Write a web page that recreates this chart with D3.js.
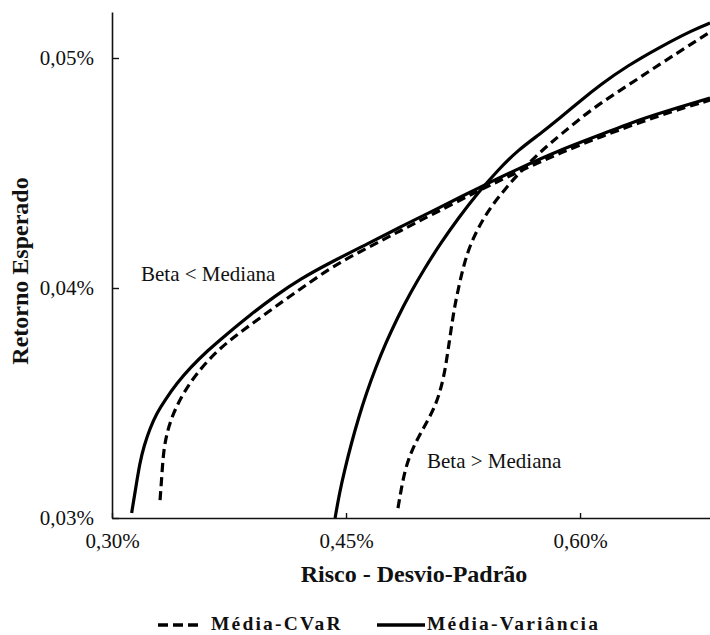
<!DOCTYPE html>
<html>
<head>
<meta charset="utf-8">
<script src="https://cdn.jsdelivr.net/npm/d3@7"></script>
<style>
  html, body { margin: 0; padding: 0; background: #fff; }
  svg { display: block; }
</style>
</head>
<body>
<svg id="chart" width="710" height="635"></svg>
<script>
// Fronteiras eficientes: risco (desvio-padrão, %) x retorno esperado (%)
const xTicks = [0.30, 0.45, 0.60];
const yTicks = [0.03, 0.04, 0.05];

// Beta < Mediana — Média-Variância
const riscoMVAbaixo = [0.3126, 0.3147, 0.3179, 0.3205, 0.3244, 0.3288, 0.3340, 0.3417, 0.3500, 0.3609, 0.3737, 0.3885, 0.4045, 0.4205, 0.4417, 0.4635, 0.4846, 0.5058, 0.5359, 0.5615, 0.5872, 0.6128, 0.6340, 0.6513, 0.6833];
const retornoMVAbaixo = [0.03022, 0.03109, 0.03243, 0.03313, 0.03391, 0.03457, 0.03513, 0.03587, 0.03652, 0.03726, 0.03800, 0.03883, 0.03965, 0.04039, 0.04117, 0.04191, 0.04265, 0.04335, 0.04439, 0.04522, 0.04600, 0.04665, 0.04722, 0.04761, 0.04826];

// Beta < Mediana — Média-CVaR
const riscoCVaRAbaixo = [0.3308, 0.3319, 0.3329, 0.3351, 0.3393, 0.3457, 0.3543, 0.3671, 0.3799, 0.3949, 0.4096, 0.4237, 0.4417, 0.4635, 0.4846, 0.5058, 0.5359, 0.5615, 0.5872, 0.6128, 0.6513, 0.6833];
const retornoCVaRAbaixo = [0.03078, 0.03178, 0.03283, 0.03370, 0.03457, 0.03543, 0.03630, 0.03726, 0.03796, 0.03870, 0.03943, 0.04009, 0.04096, 0.04174, 0.04248, 0.04322, 0.04426, 0.04509, 0.04587, 0.04657, 0.04752, 0.04817];

// Beta > Mediana — Média-Variância
const riscoMVAcima = [0.4430, 0.4458, 0.4494, 0.4535, 0.4580, 0.4631, 0.4689, 0.4755, 0.4829, 0.4912, 0.5005, 0.5108, 0.5220, 0.5345, 0.5474, 0.5603, 0.5744, 0.5872, 0.6000, 0.6128, 0.6301, 0.6513, 0.6724, 0.6833];
const retornoMVAcima = [0.03000, 0.03109, 0.03217, 0.03326, 0.03435, 0.03543, 0.03652, 0.03761, 0.03870, 0.03978, 0.04087, 0.04196, 0.04304, 0.04413, 0.04513, 0.04600, 0.04670, 0.04739, 0.04813, 0.04883, 0.04965, 0.05048, 0.05122, 0.05152];

// Beta > Mediana — Média-CVaR
const riscoCVaRAcima = [0.4833, 0.4853, 0.4878, 0.4917, 0.4968, 0.5026, 0.5077, 0.5109, 0.5135, 0.5154, 0.5173, 0.5192, 0.5218, 0.5250, 0.5288, 0.5346, 0.5423, 0.5519, 0.5615, 0.5744, 0.5872, 0.6083, 0.6301, 0.6513, 0.6724, 0.6833];
const retornoCVaRAcima = [0.03043, 0.03122, 0.03209, 0.03287, 0.03357, 0.03426, 0.03496, 0.03565, 0.03643, 0.03730, 0.03817, 0.03904, 0.03991, 0.04087, 0.04174, 0.04261, 0.04348, 0.04430, 0.04504, 0.04591, 0.04665, 0.04783, 0.04878, 0.04974, 0.05065, 0.05113];

const legendLabels = ["Média-CVaR", "Média-Variância"];
const groupLabels = ["Beta < Mediana", "Beta > Mediana"];

const series = [
  { x: riscoMVAbaixo, y: retornoMVAbaixo, dashed: false },
  { x: riscoCVaRAbaixo, y: retornoCVaRAbaixo, dashed: true },
  { x: riscoMVAcima, y: retornoMVAcima, dashed: false },
  { x: riscoCVaRAcima, y: retornoCVaRAcima, dashed: true }
];

const svg = d3.select("#chart");
const serif = "'Liberation Serif', 'Times New Roman', serif";
const ink = "#111";

const x = d3.scaleLinear().domain([0.30, 0.6833]).range([112, 710]);
const y = d3.scaleLinear().domain([0.03, 0.052]).range([518, 12]);

const br = d3.formatLocale({ decimal: ",", thousands: ".", grouping: [3], currency: ["R$", ""] });
const fmt = v => br.format(".2f")(v) + "%";

// Eixo Y (marcas para dentro)
const gy = svg.append("g")
  .attr("transform", `translate(${x.range()[0]},0)`)
  .call(d3.axisLeft(y).tickValues(yTicks).tickFormat(fmt).tickSizeInner(-7).tickSizeOuter(0).tickPadding(18));
// Eixo X (marcas para dentro)
const gx = svg.append("g")
  .attr("transform", `translate(0,${y.range()[0]})`)
  .call(d3.axisBottom(x).tickValues(xTicks).tickFormat(fmt).tickSizeInner(-5).tickSizeOuter(0).tickPadding(15));

[gx, gy].forEach(g => {
  g.attr("font-family", serif).attr("font-size", 21);
  g.select(".domain").attr("stroke", ink).attr("stroke-width", 1.6);
  g.selectAll(".tick line").attr("stroke", ink).attr("stroke-width", 1.4);
  g.selectAll(".tick text").attr("fill", ink);
});

// Curvas suavizadas
const line = d3.line()
  .x(d => x(d[0]))
  .y(d => y(d[1]))
  .curve(d3.curveBasis);

svg.append("g").selectAll("path")
  .data(series)
  .join("path")
  .attr("d", s => line(s.x.map((v, i) => [v, s.y[i]])))
  .attr("fill", "none")
  .attr("stroke", "#000")
  .attr("stroke-width", 3.2)
  .attr("stroke-dasharray", s => s.dashed ? "9,5" : null);

// Rótulos dos grupos
svg.append("text")
  .attr("x", 141).attr("y", 281)
  .attr("font-family", serif).attr("font-size", 21).attr("fill", ink)
  .text(groupLabels[0]);
svg.append("text")
  .attr("x", 427).attr("y", 468)
  .attr("font-family", serif).attr("font-size", 21).attr("fill", ink)
  .text(groupLabels[1]);

// Títulos dos eixos
svg.append("text")
  .attr("x", 414).attr("y", 582)
  .attr("text-anchor", "middle")
  .attr("font-family", serif).attr("font-size", 24).attr("font-weight", "bold").attr("fill", ink)
  .text("Risco - Desvio-Padrão");
svg.append("text")
  .attr("transform", "translate(28,271) rotate(-90)")
  .attr("text-anchor", "middle")
  .attr("font-family", serif).attr("font-size", 24).attr("font-weight", "bold").attr("fill", ink)
  .text("Retorno Esperado");

// Legenda
const legend = svg.append("g");
const legendItems = [
  { label: legendLabels[0], x0: 158, x1: 202, tx: 211, dashed: true },
  { label: legendLabels[1], x0: 377, x1: 425, tx: 427, dashed: false }
];
legendItems.forEach(it => {
  legend.append("line")
    .attr("x1", it.x0).attr("x2", it.x1)
    .attr("y1", 625).attr("y2", 625)
    .attr("stroke", "#000").attr("stroke-width", 3.4)
    .attr("stroke-dasharray", it.dashed ? "10,5" : null);
  legend.append("text")
    .attr("x", it.tx).attr("y", 630)
    .attr("font-family", serif).attr("font-size", 19.5).attr("font-weight", "bold")
    .attr("letter-spacing", 2.2).attr("fill", ink)
    .text(it.label);
});
</script>
</body>
</html>
